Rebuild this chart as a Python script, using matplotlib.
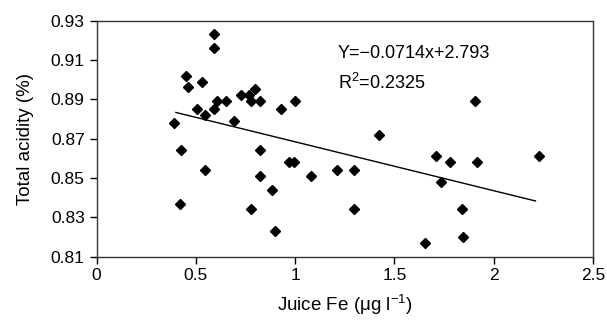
import numpy as np
import matplotlib
matplotlib.use('Agg')
import matplotlib.pyplot as plt

# Data.
fe = [0.592, 0.592, 0.449, 0.531, 0.459, 0.727, 0.768, 0.799, 0.608, 0.652,
      0.778, 0.821, 0.997, 0.930, 0.507, 0.591, 0.548, 0.390, 0.690,
      0.425, 0.821, 0.546, 0.969, 0.992, 0.821, 1.078, 1.210, 0.882, 0.420,
      0.778, 0.900,
      1.420, 1.298, 1.710, 1.782, 1.918, 2.230, 1.737, 1.298, 1.841, 1.846,
      1.652, 1.905]
acidity = [0.923, 0.916, 0.902, 0.899, 0.896, 0.892, 0.892, 0.895, 0.889, 0.889,
           0.889, 0.889, 0.889, 0.885, 0.885, 0.885, 0.882, 0.878, 0.879,
           0.864, 0.864, 0.854, 0.858, 0.858, 0.851, 0.851, 0.854, 0.844, 0.837,
           0.834, 0.823,
           0.872, 0.854, 0.861, 0.858, 0.858, 0.861, 0.848, 0.834, 0.834, 0.820,
           0.817, 0.889]

# Trend line end points.
fit_x = [0.40, 2.21]
fit_y = [0.8833, 0.8383]

x_ticks = [0, 0.5, 1, 1.5, 2, 2.5]
x_tick_labels = ['0', '0.5', '1', '1.5', '2', '2.5']
y_ticks = [0.81, 0.83, 0.85, 0.87, 0.89, 0.91, 0.93]

plt.rcParams['font.family'] = ['Liberation Sans', 'DejaVu Sans']

fig = plt.figure(figsize=(6.07, 3.22), dpi=100)
ax = fig.add_axes([0.159, 0.203, 0.818, 0.733])

ax.plot(fe, acidity, linestyle='none', marker='D', markersize=5.5,
        color='black')
ax.plot(fit_x, fit_y, color='black', linewidth=1)

ax.set_xlim(0, 2.5)
ax.set_ylim(0.81, 0.93)
ax.set_xticks(x_ticks)
ax.set_xticklabels(x_tick_labels)
ax.set_yticks(y_ticks)
ax.set_yticklabels(['%.2f' % v for v in y_ticks])
ax.tick_params(direction='out', length=5, width=1, labelsize=12.5, colors='black')

for side in ax.spines.values():
    side.set_linewidth(1)
    side.set_color('#333333')

ax.text(1.215, 0.9135, 'Y=\u22120.0714x+2.793', fontsize=13, va='center')
ax.text(1.215, 0.8985, 'R$^{\\mathregular{2}}$=0.2325', fontsize=13, va='center')

ax.set_xlabel('Juice Fe (\u03bcg l$^{\\mathregular{-1}}$)', fontsize=13.5, labelpad=6)
ax.set_ylabel('Total acidity (%)', fontsize=13.5, labelpad=12)

fig.savefig('out.png', dpi=100)
